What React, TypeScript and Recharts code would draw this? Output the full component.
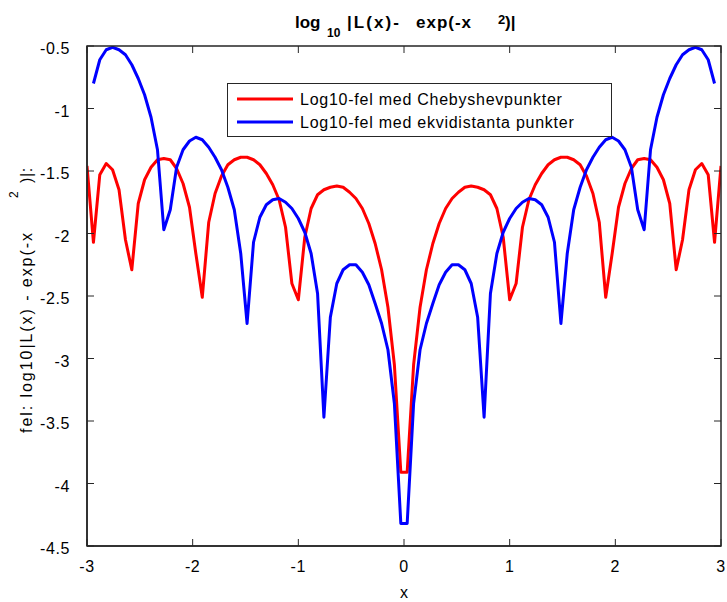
import React from 'react';
import { LineChart, Line, XAxis, YAxis, Legend } from 'recharts';

// x sample positions (100 evenly spaced points on [-3, 3])
const xValues = [
  -3, -2.939, -2.879, -2.818, -2.758, -2.697, -2.636, -2.576, -2.515, -2.455,
  -2.394, -2.333, -2.273, -2.212, -2.152, -2.091, -2.030, -1.970, -1.909, -1.848,
  -1.788, -1.727, -1.667, -1.606, -1.545, -1.485, -1.424, -1.364, -1.303, -1.242,
  -1.182, -1.121, -1.061, -1.000, -0.939, -0.879, -0.818, -0.758, -0.697, -0.636,
  -0.576, -0.515, -0.455, -0.394, -0.333, -0.273, -0.212, -0.152, -0.091, -0.030,
  0.030, 0.091, 0.152, 0.212, 0.273, 0.333, 0.394, 0.455, 0.515, 0.576,
  0.636, 0.697, 0.758, 0.818, 0.879, 0.939, 1.000, 1.061, 1.121, 1.182,
  1.242, 1.303, 1.364, 1.424, 1.485, 1.545, 1.606, 1.667, 1.727, 1.788,
  1.848, 1.909, 1.970, 2.030, 2.091, 2.152, 2.212, 2.273, 2.333, 2.394,
  2.455, 2.515, 2.576, 2.636, 2.697, 2.758, 2.818, 2.879, 2.939, 3,
];

// log10 error, Chebyshev nodes (red)
const chebyshevError = [
  -1.46, -2.07, -1.53, -1.44, -1.49, -1.65, -2.05, -2.29, -1.76, -1.57,
  -1.47, -1.41, -1.40, -1.41, -1.48, -1.60, -1.79, -2.16, -2.51, -1.91,
  -1.68, -1.54, -1.45, -1.41, -1.39, -1.39, -1.41, -1.45, -1.52, -1.61,
  -1.73, -1.95, -2.40, -2.53, -2.03, -1.80, -1.69, -1.65, -1.63, -1.62,
  -1.63, -1.67, -1.72, -1.80, -1.92, -2.08, -2.29, -2.59, -3.05, -3.91,
  -3.91, -3.05, -2.59, -2.29, -2.08, -1.92, -1.80, -1.72, -1.67, -1.63,
  -1.62, -1.63, -1.65, -1.69, -1.80, -2.03, -2.53, -2.40, -1.95, -1.73,
  -1.61, -1.52, -1.45, -1.41, -1.39, -1.39, -1.41, -1.45, -1.54, -1.68,
  -1.91, -2.51, -2.16, -1.79, -1.60, -1.48, -1.41, -1.40, -1.41, -1.47,
  -1.57, -1.76, -2.29, -2.05, -1.65, -1.49, -1.44, -1.53, -2.07, -1.46,
];

// log10 error, equidistant nodes (blue); endpoints are nodes (-Inf, not drawn)
const equidistantError = [
  null, -0.80, -0.61, -0.53, -0.51, -0.53, -0.57, -0.65, -0.76, -0.89,
  -1.07, -1.33, -1.97, -1.81, -1.47, -1.33, -1.26, -1.23, -1.25, -1.31,
  -1.39, -1.49, -1.63, -1.81, -2.16, -2.72, -2.07, -1.87, -1.77, -1.73,
  -1.72, -1.75, -1.80, -1.88, -1.99, -2.16, -2.48, -3.47, -2.67, -2.40,
  -2.29, -2.25, -2.25, -2.31, -2.41, -2.56, -2.72, -2.93, -3.36, -4.32,
  -4.32, -3.36, -2.93, -2.72, -2.56, -2.41, -2.31, -2.25, -2.25, -2.29,
  -2.40, -2.67, -3.47, -2.48, -2.16, -1.99, -1.88, -1.80, -1.75, -1.72,
  -1.73, -1.77, -1.87, -2.07, -2.72, -2.16, -1.81, -1.63, -1.49, -1.39,
  -1.31, -1.25, -1.23, -1.26, -1.33, -1.47, -1.81, -1.97, -1.33, -1.07,
  -0.89, -0.76, -0.65, -0.57, -0.53, -0.51, -0.53, -0.61, -0.80, null,
];

const xTicks = [-3, -2, -1, 0, 1, 2, 3];
const yTicks = [-4.5, -4, -3.5, -3, -2.5, -2, -1.5, -1, -0.5];
const xDomain = [-3, 3];
const yDomain = [-4.5, -0.5];
const seriesNames = ['Log10-fel med Chebyshevpunkter', 'Log10-fel med ekvidistanta punkter'];
const seriesColors = ['#ff0000', '#0000ff'];

const data = xValues.map((x, i) => ({ x, cheb: chebyshevError[i], ekv: equidistantError[i] }));

const FONT = '"Liberation Sans", Arial, Helvetica, sans-serif';
const AX = '#262626';
const BOX_W = 1.5;
const TL = 7;
const FS = 16;
const LS = 0.6;
const CW = 727;
const CH = 602;
const YAXIS_W = 50;
const XAXIS_H = 30;
const MARGIN = { top: 46, right: 6, bottom: 26, left: 37 };
// plot frame (layout only)
const PL = MARGIN.left + YAXIS_W;
const PT = MARGIN.top;
const PR = CW - MARGIN.right;
const PB = CH - MARGIN.bottom - XAXIS_H;
const toPx = (v: number) => PL + ((v - xDomain[0]) / (xDomain[1] - xDomain[0])) * (PR - PL);
const toPy = (v: number) => PT + ((yDomain[1] - v) / (yDomain[1] - yDomain[0])) * (PB - PT);

const BottomTick = (p: any) => (
  <g>
    <line x1={p.x} x2={p.x} y1={p.y} y2={p.y - TL} stroke={AX} strokeWidth={1} />
    <text x={p.x} y={p.y + 26} textAnchor="middle" fontFamily={FONT} fontSize={FS} letterSpacing={LS} fill="#000">
      {p.payload.value}
    </text>
  </g>
);
const LeftTick = (p: any) => (
  <g>
    <line x1={p.x} x2={p.x + TL} y1={p.y} y2={p.y} stroke={AX} strokeWidth={1} />
    <text x={p.x - 17} y={p.y + 8} textAnchor="end" fontFamily={FONT} fontSize={FS} letterSpacing={LS} fill="#000">
      {p.payload.value}
    </text>
  </g>
);

const LegendBox = () => (
  <div style={{ width: 385, height: 54, boxSizing: 'border-box', border: `1px solid ${AX}`, background: '#fff' }}>
    <svg width={383} height={52} style={{ display: 'block' }}>
      {seriesNames.map((name, i) => (
        <g key={name}>
          <line x1={9} x2={65} y1={15 + i * 23} y2={15 + i * 23} stroke={seriesColors[i]} strokeWidth={3} />
          <text x={72} y={21 + i * 23} fontFamily={FONT} fontSize={FS} letterSpacing={0.75} fill="#000">{name}</text>
        </g>
      ))}
    </svg>
  </div>
);

export default function App() {
  return (
    <div style={{ position: 'absolute', left: 0, top: 0, width: CW, height: CH, background: '#fff', fontFamily: FONT }}>
      <LineChart width={CW} height={CH} data={data} margin={MARGIN}>
        <XAxis dataKey="x" type="number" domain={xDomain} ticks={xTicks} allowDataOverflow
          height={XAXIS_H} tickSize={0} tickMargin={0} tickLine={false} axisLine={{ stroke: AX, strokeWidth: BOX_W }} tick={BottomTick} interval={0} />
        <YAxis type="number" domain={yDomain} ticks={yTicks} allowDataOverflow
          width={YAXIS_W} tickSize={0} tickMargin={0} tickLine={false} axisLine={{ stroke: AX, strokeWidth: BOX_W }} tick={LeftTick} interval={0} />
        <Legend layout="vertical" align="center" verticalAlign="middle"
          wrapperStyle={{ position: 'absolute', left: 227, top: 83, width: 385, height: 54 }}
          content={() => <LegendBox />} />
        <Line type="linear" dataKey="cheb" name={seriesNames[0]} stroke={seriesColors[0]}
          strokeWidth={3} strokeLinejoin="round" dot={false} activeDot={false} isAnimationActive={false} />
        <Line type="linear" dataKey="ekv" name={seriesNames[1]} stroke={seriesColors[1]}
          strokeWidth={3} strokeLinejoin="round" dot={false} activeDot={false} isAnimationActive={false} />
      </LineChart>
      <svg width={CW} height={CH} style={{ position: 'absolute', left: 0, top: 0, pointerEvents: 'none' }}>
        {/* full axes box with inward ticks on the top and right edges */}
        <rect x={PL} y={PT} width={PR - PL} height={PB - PT} fill="none" stroke={AX} strokeWidth={BOX_W} />
        {xTicks.map((t) => (
          <line key={'tx' + t} x1={toPx(t)} x2={toPx(t)} y1={PT} y2={PT + TL} stroke={AX} strokeWidth={1} />
        ))}
        {yTicks.map((t) => (
          <line key={'ty' + t} x1={PR} x2={PR - TL} y1={toPy(t)} y2={toPy(t)} stroke={AX} strokeWidth={1} />
        ))}
        <g fontFamily={FONT} fontWeight="bold" fill="#000" fontSize={17}>
          <text x={295} y={28}>log</text>
          <text x={327} y={37} fontSize={12}>10</text>
          <text x={347} y={28} textLength={52} lengthAdjust="spacing">|L(x)-</text>
          <text x={416} y={28} textLength={55} lengthAdjust="spacing">exp(-x</text>
          <text x={498} y={24} fontSize={13}>2</text>
          <text x={505} y={28}>)|</text>
        </g>
        <text x={404} y={598} textAnchor="middle" fontFamily={FONT} fontSize={FS} fill="#000">x</text>
        <g fontFamily={FONT} fontSize={FS} fill="#000">
          <text transform="translate(32,233) rotate(-90)" textAnchor="end" textLength={200} lengthAdjust="spacing">fel: log10|L(x) - exp(-x</text>
          <text transform="translate(18,198) rotate(-90)" textAnchor="start" fontSize={12}>2</text>
          <text transform="translate(32,183) rotate(-90)" textAnchor="start" letterSpacing={LS}>)|:</text>
        </g>
      </svg>
    </div>
  );
}
